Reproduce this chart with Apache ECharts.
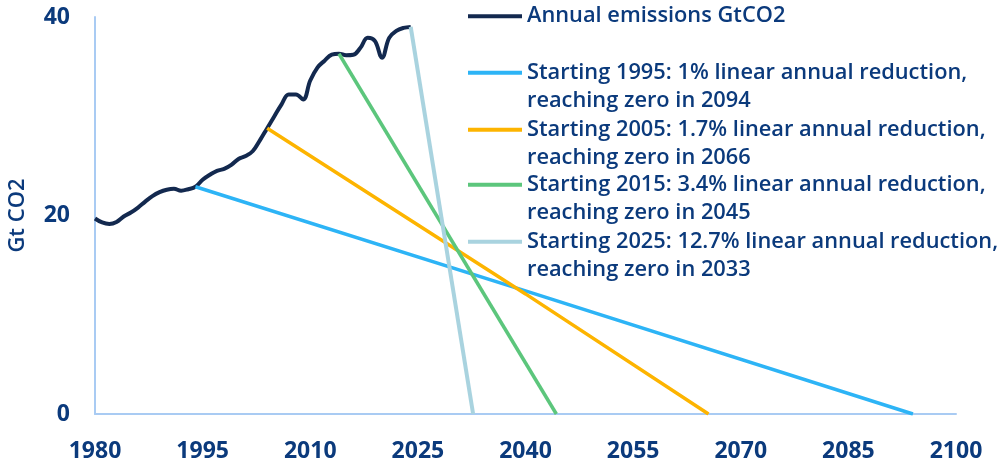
<!DOCTYPE html>
<html>
<head>
<meta charset="utf-8">
<script src="https://cdn.jsdelivr.net/npm/echarts@6/dist/echarts.min.js"></script>
<style>
html,body{margin:0;padding:0;background:#fff;}
#chart{width:998px;height:463px;}
</style>
</head>
<body>
<div id="chart"></div>
<script>
// ---- data ----
var emissionYears = [1980,1981,1982,1983,1984,1985,1986,1987,1988,1989,
  1990,1991,1992,1993,1994,1995,1996,1997,1998,1999,
  2000,2001,2002,2003,2004,2005,2006,2007,2008,2009,
  2010,2011,2012,2013,2014,2015,2016,2017,2018,2019,
  2020,2021,2022,2023,2024];
var emissionValues = [19.7,19.3,19.15,19.35,19.9,20.3,20.8,21.4,21.95,22.35,
  22.6,22.7,22.5,22.65,22.9,23.6,24.1,24.5,24.7,25.1,
  25.7,26.0,26.5,27.6,28.8,30.0,31.2,32.2,32.2,31.7,
  33.6,34.9,35.6,36.2,36.3,36.15,36.2,36.9,37.9,37.6,
  35.9,37.9,38.6,38.9,39.0];

var path1995Years = [1994, 2040, 2094];
var path1995Values = [22.9, 12.4, 0];
var path2005Years = [2004, 2040, 2065.5];
var path2005Values = [28.8, 12.1, 0];
var path2015Years = [2014, 2044.3];
var path2015Values = [36.3, 0];
var path2025Years = [2024, 2032.7];
var path2025Values = [39.0, 0];

var xTickLabels = [1980, 1995, 2010, 2025, 2040, 2055, 2070, 2085, 2100];
var yTickLabels = [0, 20, 40];

var seriesNames = [
  'Annual emissions GtCO2',
  'Starting 1995: 1% linear annual reduction,',
  'Starting 2005: 1.7% linear annual reduction,',
  'Starting 2015: 3.4% linear annual reduction,',
  'Starting 2025: 12.7% linear annual reduction,'
];
var secondLines = ['', 'reaching zero in 2094', 'reaching zero in 2066', 'reaching zero in 2045', 'reaching zero in 2033'];
var seriesColors = ['#13294f', '#2db4f6', '#fdb400', '#5cc67c', '#a9d3df'];

function pairs(xs, ys) { return xs.map(function (x, i) { return [x, ys[i]]; }); }

var TEXT = '#0b3a7c';
var FONT = '"Open Sans", "DejaVu Sans", sans-serif';

var seriesData = [
  pairs(emissionYears, emissionValues),
  pairs(path1995Years, path1995Values),
  pairs(path2005Years, path2005Values),
  pairs(path2015Years, path2015Values),
  pairs(path2025Years, path2025Values)
];

var series = seriesData.map(function (d, i) {
  return {
    name: seriesNames[i],
    type: 'line',
    data: d,
    symbol: 'none',
    smooth: i === 0 ? 0.4 : false,
    lineStyle: { color: seriesColors[i], width: i === 0 ? 4 : (i === 4 ? 4 : 3.5) },
    itemStyle: { color: seriesColors[i] },
    z: 2 + i
  };
});

var legendTops = [2, 30, 87, 142, 199];
var legends = seriesNames.map(function (n, i) {
  return {
    data: [n],
    left: 468,
    top: legendTops[i],
    padding: 0,
    orient: 'vertical',
    icon: 'rect',
    itemWidth: 54,
    itemHeight: 4,
    selectedMode: false,
    formatter: function (name) {
      return secondLines[i] ? '\n' + name + '\n' + secondLines[i] : name;
    },
    textStyle: { color: TEXT, fontFamily: FONT, fontSize: 21.8, fontWeight: 600, lineHeight: 28.5 }
  };
});

var chart = echarts.init(document.getElementById('chart'));
chart.setOption({
  animation: false,
  backgroundColor: '#ffffff',
  legend: legends,
  grid: { left: 95, right: 42, top: 17, bottom: 49, containLabel: false, outerBoundsMode: 'none' },
  xAxis: {
    type: 'value',
    min: xTickLabels[0],
    max: xTickLabels[xTickLabels.length - 1],
    interval: xTickLabels[1] - xTickLabels[0],
    axisLine: { show: true, lineStyle: { color: '#a9cbf3', width: 2 } },
    axisTick: { show: false },
    splitLine: { show: false },
    axisLabel: {
      color: TEXT, fontFamily: FONT, fontSize: 23, fontWeight: 700, margin: 26,
      formatter: function (v) { return String(v); }
    }
  },
  yAxis: {
    type: 'value',
    min: yTickLabels[0],
    max: yTickLabels[yTickLabels.length - 1],
    interval: yTickLabels[1] - yTickLabels[0],
    name: 'Gt CO2',
    nameLocation: 'middle',
    nameGap: 66,
    nameTextStyle: { color: TEXT, fontFamily: FONT, fontSize: 22, fontWeight: 600 },
    axisLine: { show: true, lineStyle: { color: '#a9cbf3', width: 2 } },
    axisTick: { show: false },
    splitLine: { show: false },
    axisLabel: {
      color: TEXT, fontFamily: FONT, fontSize: 23, fontWeight: 700, margin: 25,
      formatter: function (v) { return String(v); }
    }
  },
  series: series
});
</script>
</body>
</html>
